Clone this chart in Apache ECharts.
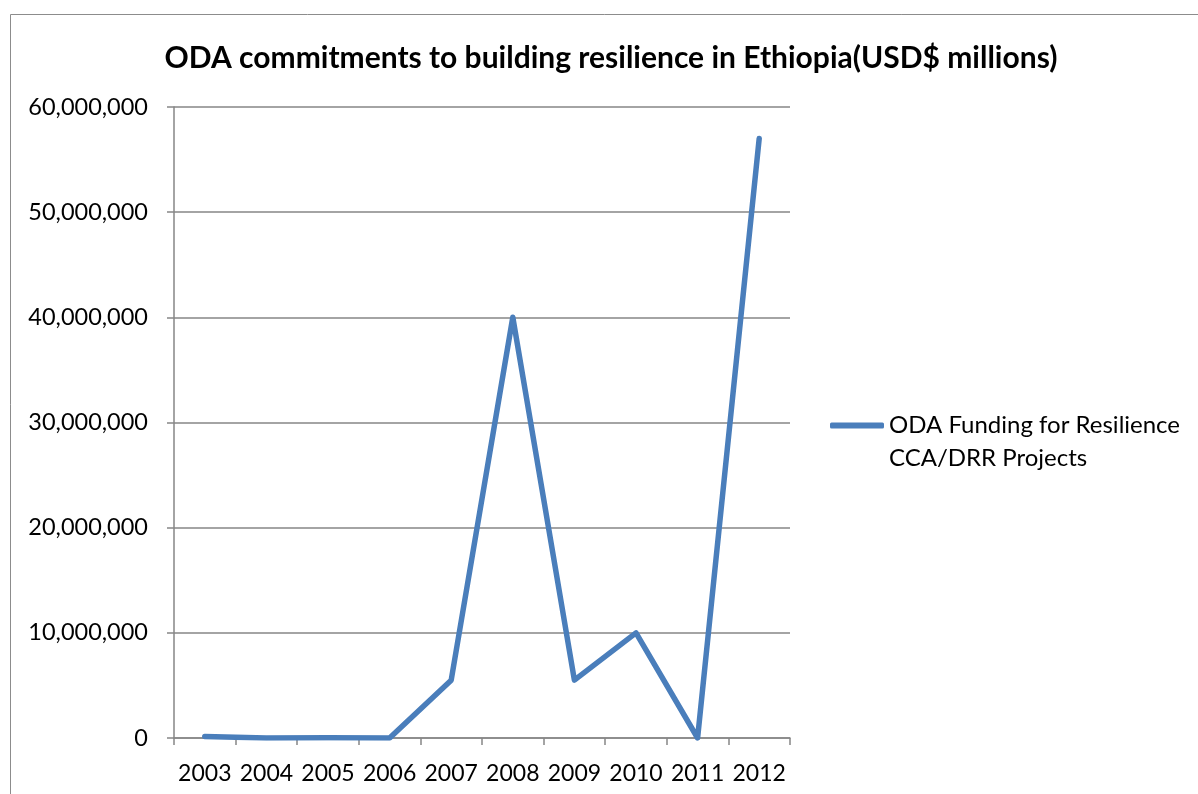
<!DOCTYPE html>
<html>
<head>
<meta charset="utf-8">
<script src="https://cdn.jsdelivr.net/npm/echarts@6/dist/echarts.min.js"></script>
<style>
  html, body { margin: 0; padding: 0; background: #fff; }
  #chart { width: 1198px; height: 794px; }
</style>
</head>
<body>
<div id="chart"></div>
<script>
// Annual ODA commitments (USD) to resilience / CCA-DRR projects in Ethiopia
const years = ['2003', '2004', '2005', '2006', '2007', '2008', '2009', '2010', '2011', '2012'];
const odaFunding = [150000, 0, 30000, 0, 5500000, 40000000, 5500000, 10000000, 0, 57000000];
const seriesName = 'ODA Funding for Resilience\nCCA/DRR Projects';
const titleText = 'ODA commitments to building resilience in Ethiopia(USD$ millions)';

const FONT = 'Lato, "Open Sans", sans-serif';
const GRAY = '#868686';
const LINE = '#4a7ebb';

const chart = echarts.init(document.getElementById('chart'));
chart.setOption({
  backgroundColor: '#fff',
  animation: false,
  textStyle: { fontFamily: FONT, color: '#000' },
  graphic: [{
    type: 'rect',
    shape: { x: 10.5, y: 14.5, width: 1400, height: 1000 },
    style: { fill: 'none', stroke: '#8c8c8c', lineWidth: 1 },
    silent: true
  }],
  title: {
    text: titleText,
    left: 606,
    textAlign: 'center',
    top: 38,
    textStyle: { fontFamily: FONT, fontSize: 30, fontWeight: 'bold', color: '#000' }
  },
  legend: {
    orient: 'vertical',
    left: 825,
    top: 371,
    itemWidth: 54,
    itemHeight: 6,
    itemGap: 4,
    data: [{ name: seriesName, icon: 'roundRect' }],
    itemStyle: { color: LINE, borderWidth: 0 },
    // a blank leading line keeps the legend swatch level with the first text line
    formatter: name => ' \n' + name,
    textStyle: { fontFamily: FONT, fontSize: 24, color: '#000', lineHeight: 33 }
  },
  grid: { left: 174, right: 408, top: 107, bottom: 56, containLabel: false },
  xAxis: {
    type: 'category',
    data: years,
    boundaryGap: true,
    axisLine: { lineStyle: { color: GRAY, width: 1.5 } },
    axisTick: { show: true, length: 7, interval: 0, lineStyle: { color: GRAY, width: 1.5 } },
    axisLabel: { margin: 24, fontSize: 23, color: '#000', fontFamily: FONT, interval: 0 },
    splitLine: { show: false }
  },
  yAxis: {
    type: 'value',
    min: 0,
    max: 60000000,
    interval: 10000000,
    axisLine: { show: true, lineStyle: { color: GRAY, width: 1.5 } },
    axisTick: { show: true, length: 7, lineStyle: { color: GRAY, width: 1.5 } },
    axisLabel: {
      margin: 26, fontSize: 23.5, color: '#000', fontFamily: FONT,
      formatter: v => v.toLocaleString('en-US')
    },
    splitLine: { show: true, lineStyle: { color: GRAY, width: 1.5 } }
  },
  series: [{
    name: seriesName,
    type: 'line',
    data: odaFunding,
    symbol: 'none',
    color: LINE,
    lineStyle: { color: LINE, width: 5.5, cap: 'round', join: 'round' }
  }]
});
</script>
</body>
</html>
